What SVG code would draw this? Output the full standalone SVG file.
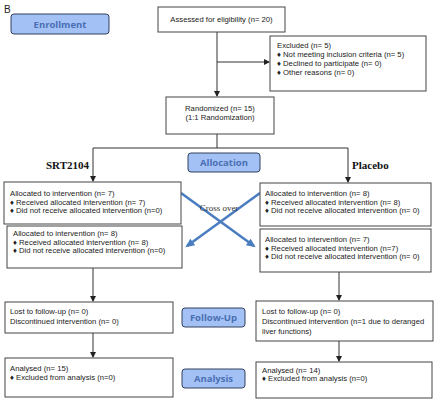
<svg xmlns="http://www.w3.org/2000/svg" width="440" height="401" viewBox="0 0 440 401">
<style>
.box{fill:#fff;stroke:#444;stroke-width:1}
.t{font-family:"Liberation Sans",Arial,sans-serif;font-size:7.7px;fill:#222}
.lab{fill:#a3c1f5;stroke:#33415f;stroke-width:1}
.lt{font-family:"Open Sans","Liberation Sans",sans-serif;font-size:9.5px;font-weight:bold;fill:#4a6fb3;text-anchor:middle}
.arm{font-family:"Liberation Serif","Times New Roman",serif;font-size:11px;font-weight:bold;fill:#111}
.c{fill:none;stroke:#333;stroke-width:1}
.x{fill:none;stroke:#4a7cc0;stroke-width:2.5}
</style>
<defs>
<marker id="ah" markerWidth="6" markerHeight="6" refX="5" refY="3" orient="auto" markerUnits="userSpaceOnUse"><path d="M0,0 L6,3 L0,6 z" fill="#222"/></marker>
<marker id="bh" markerWidth="10" markerHeight="10" refX="7" refY="5" orient="auto" markerUnits="userSpaceOnUse"><path d="M0,1 L9,5 L0,9 z" fill="#4a7cc0"/></marker>
</defs>
<text x="4" y="13" font-family="Liberation Sans,Arial,sans-serif" font-size="10" fill="#222">B</text>

<g id="connectors">
<path class="c" d="M217,32 V96" marker-end="url(#ah)"/>
<path class="c" d="M217,62 H269" marker-end="url(#ah)"/>
<path class="c" d="M217,134 V148"/>
<path class="c" d="M93,148 H348"/>
<path class="c" d="M93,148 V181" marker-end="url(#ah)"/>
<path class="c" d="M348,148 V182" marker-end="url(#ah)"/>
<path class="c" d="M93,268 V301" marker-end="url(#ah)"/>
<path class="c" d="M93,333 V357" marker-end="url(#ah)"/>
<path class="c" d="M339,272 V300" marker-end="url(#ah)"/>
<path class="c" d="M339,341 V361" marker-end="url(#ah)"/>
<path class="x" d="M181,193 L254,246" marker-end="url(#bh)"/>
<path class="x" d="M260,193 L187,246" marker-end="url(#bh)"/>
<text x="219" y="211" text-anchor="middle" font-family="Liberation Serif,Times New Roman,serif" font-size="9" fill="#333">Cross over</text>
</g>

<g id="enrollment"><rect class="lab" x="11" y="14" width="98" height="20" rx="3"/><text class="lt" x="60" y="27.5">Enrollment</text></g>
<g id="allocation"><rect class="lab" x="188" y="153" width="72" height="19" rx="3"/><text class="lt" x="224" y="166">Allocation</text></g>
<g id="followup"><rect class="lab" x="182" y="308" width="63" height="19" rx="3"/><text class="lt" x="213.5" y="321">Follow-Up</text></g>
<g id="analysis"><rect class="lab" x="182" y="369" width="63" height="19" rx="3"/><text class="lt" x="213.5" y="382">Analysis</text></g>

<g id="assessed"><rect class="box" x="158" y="7" width="127" height="25"/><text class="t" x="221.5" y="22" text-anchor="middle">Assessed for eligibility (n= 20)</text></g>
<g id="excluded"><rect class="box" x="270" y="36" width="156" height="55"/>
<text class="t" x="277" y="48">Excluded  (n= 5)</text>
<text class="t" x="277" y="57">♦  Not meeting inclusion criteria (n= 5)</text>
<text class="t" x="277" y="66">♦  Declined to participate (n= 0)</text>
<text class="t" x="277" y="75">♦  Other reasons (n= 0)</text></g>
<g id="randomized"><rect class="box" x="166" y="97" width="108" height="37"/>
<text class="t" x="220" y="111" text-anchor="middle">Randomized (n= 15)</text>
<text class="t" x="220" y="119.5" text-anchor="middle">(1:1 Randomization)</text></g>

<text class="arm" x="46" y="169">SRT2104</text>
<text class="arm" x="352" y="169">Placebo</text>

<g id="left-alloc1"><rect class="box" x="4" y="182" width="177" height="42"/>
<text class="t" x="10" y="196">Allocated to intervention (n= 7)</text>
<text class="t" x="10" y="204.5">♦ Received allocated intervention (n= 7)</text>
<text class="t" x="10" y="213">♦ Did not receive allocated intervention  (n=0)</text></g>
<g id="left-alloc2"><rect class="box" x="7" y="226" width="175" height="42"/>
<text class="t" x="13" y="236">Allocated to intervention (n= 8)</text>
<text class="t" x="13" y="244.5">♦ Received allocated intervention (n= 8)</text>
<text class="t" x="13" y="253">♦ Did not receive allocated intervention  (n=0)</text></g>
<g id="right-alloc1"><rect class="box" x="260" y="183" width="171" height="43"/>
<text class="t" x="265" y="196">Allocated to intervention (n= 8)</text>
<text class="t" x="265" y="204.5">♦ Received allocated intervention (n= 8)</text>
<text class="t" x="265" y="213">♦ Did not receive allocated intervention  (n= 0)</text></g>
<g id="right-alloc2"><rect class="box" x="260" y="229" width="171" height="43"/>
<text class="t" x="265" y="242">Allocated to intervention (n= 7)</text>
<text class="t" x="265" y="250.5">♦ Received allocated intervention (n=7)</text>
<text class="t" x="265" y="259">♦ Did not receive allocated intervention  (n= 0)</text></g>

<g id="left-followup"><rect class="box" x="5" y="302" width="168" height="31"/>
<text class="t" x="10" y="314">Lost to follow-up  (n= 0)</text>
<text class="t" x="10" y="324">Discontinued intervention (n= 0)</text></g>
<g id="left-analysed"><rect class="box" x="5" y="358" width="168" height="39"/>
<text class="t" x="10" y="371">Analysed  (n= 15)</text>
<text class="t" x="10" y="379.5">♦ Excluded from analysis (n=0)</text></g>
<g id="right-followup"><rect class="box" x="256" y="301" width="177" height="40"/>
<text class="t" x="262" y="314">Lost to follow-up (n= 0)</text>
<text class="t" x="262" y="323.5">Discontinued intervention (n=1 due to deranged</text>
<text class="t" x="262" y="334">liver functions)</text></g>
<g id="right-analysed"><rect class="box" x="256" y="362" width="176" height="36"/>
<text class="t" x="262" y="372.5">Analysed  (n= 14)</text>
<text class="t" x="262" y="381">♦ Excluded from analysis (n=0)</text></g>
</svg>
